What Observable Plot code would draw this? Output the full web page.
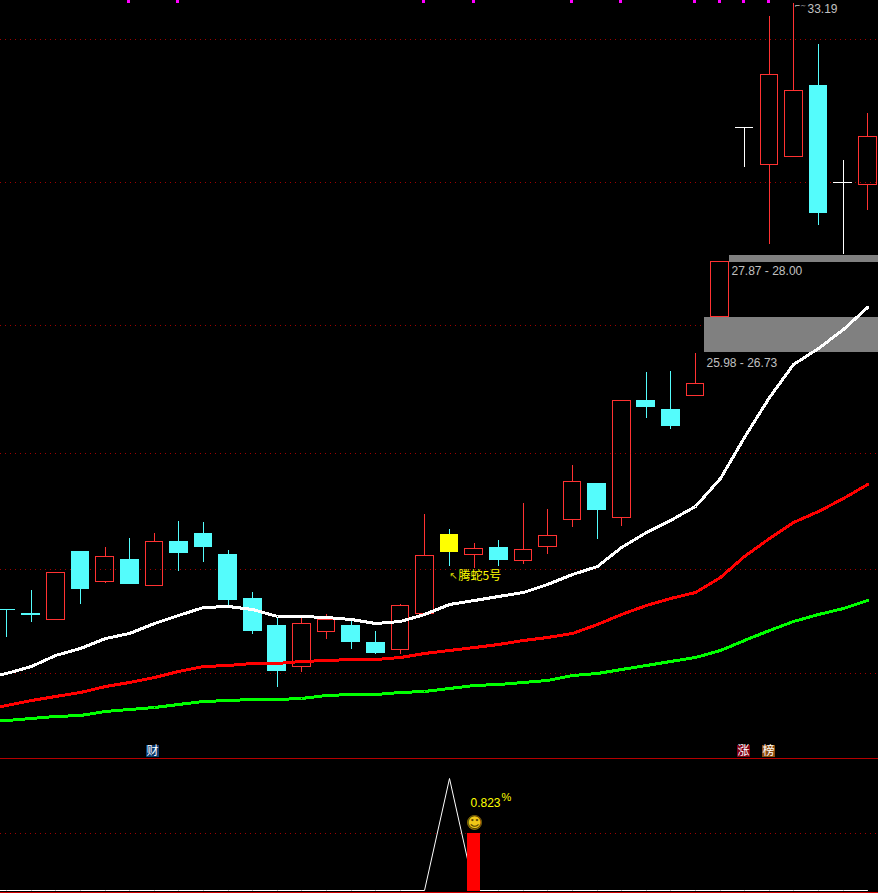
<!DOCTYPE html>
<html>
<head>
<meta charset="utf-8">
<script src="https://cdn.jsdelivr.net/npm/d3@7"></script>
<script src="https://cdn.jsdelivr.net/npm/@observablehq/plot@0.6"></script>
<style>
html,body{margin:0;padding:0;background:#000;overflow:hidden}
svg{display:block}
</style>
</head>
<body>
<div id="chart"></div>
<script>
const opens  = [20.72,20.64,20.52,21.92,21.30,21.75,21.22,22.13,22.29,21.86,20.95,20.39,19.55,20.27,20.39,20.04,19.90,20.64,22.27,21.86,22.00,21.73,22.02,22.58,23.32,22.62,25.03,24.84,25.13,26.76,30.65,29.89,30.06,31.52,29.52,29.48];
const closes = [20.72,20.60,21.49,21.14,21.82,21.24,22.13,21.88,22.00,20.91,20.27,19.45,20.44,20.52,20.04,19.82,20.81,21.84,21.90,21.98,21.73,21.96,22.25,23.36,22.76,25.03,24.89,24.49,25.38,27.89,30.65,31.75,31.42,28.88,29.52,30.47];
const highs  = [20.72,21.12,21.49,21.92,22.00,22.19,22.29,22.54,22.52,21.94,21.07,20.56,20.56,20.62,20.48,20.27,20.83,22.68,22.37,22.08,22.15,22.91,22.78,23.69,23.32,25.03,25.61,25.63,26.00,27.89,30.65,32.94,33.21,32.36,29.97,30.94];
const lows   = [20.15,20.46,20.52,20.83,21.26,21.24,21.22,21.51,21.69,20.79,20.21,19.12,19.43,20.11,19.90,19.80,19.80,20.64,21.61,21.57,21.61,21.65,21.86,22.41,22.17,22.43,24.66,24.43,25.13,26.76,29.83,28.24,30.06,28.64,28.04,28.94];

// moving averages; first reading sits one session left of the visible window
const lineDays = d3.range(-1, 36);
const maWhite = [19.30,19.41,19.56,19.78,19.92,20.13,20.24,20.44,20.60,20.76,20.78,20.72,20.57,20.57,20.55,20.52,20.43,20.47,20.62,20.83,20.92,20.99,21.08,21.23,21.45,21.60,22.01,22.32,22.56,22.85,23.42,24.27,25.09,25.77,26.10,26.49,26.95];
const maRed   = [18.65,18.75,18.85,18.94,19.02,19.14,19.23,19.33,19.44,19.54,19.58,19.61,19.61,19.65,19.67,19.69,19.69,19.73,19.82,19.88,19.95,20.01,20.08,20.14,20.24,20.42,20.62,20.81,20.96,21.08,21.38,21.82,22.19,22.52,22.74,23.01,23.30];
const maGreen = [18.40,18.44,18.48,18.51,18.55,18.62,18.66,18.71,18.77,18.83,18.86,18.88,18.88,18.90,18.95,18.97,18.97,19.01,19.04,19.10,19.15,19.18,19.22,19.26,19.37,19.41,19.49,19.57,19.65,19.74,19.88,20.09,20.29,20.48,20.62,20.75,20.91];

const gridPrices = [32.47,29.52,26.58,23.94,21.55,19.41];
const signalDays = [5,7,17,19,23,25,28,29,30,31];
const highlightDay = 18;
const flatDownDays = [0];

const bandStart = [29.38,28.36];
const bandLow   = [27.88,26.02];
const bandHigh  = [28.01,26.74];
const bandText  = ["27.87 - 28.00","25.98 - 26.73"];
const bandTextDay = [29.46,28.44];
const bandTextPrice = [27.69,25.80];

const badgeDays = [5.94,29.97,30.98];
const badgeText = ["财","涨","榜"];
const badgeFill = ["#0a3a6e","#7d0014","#8a4a0c"];

const peakLine = lineDays.map(d => d === 18 ? 1.62 : 0);
const barDay = 19, barValue = 0.823;

const xDomain = [-0.252, 35.44];
const priceTop = 33.27, priceBottom = 17.655;
const RED = "#ff3232", CYAN = "#54fcfc";
const LATIN = "Liberation Sans";
const CJK = "Noto Sans CJK SC";

const days = d3.range(opens.length);
const tone = i => i === highlightDay ? "#ffff00"
  : closes[i] > opens[i] ? RED
  : closes[i] < opens[i] ? CYAN
  : flatDownDays.includes(i) ? CYAN : "#ffffff";
const wickTone = i => i === highlightDay ? CYAN : tone(i);
const topOf = i => Math.max(opens[i], closes[i]);
const botOf = i => Math.min(opens[i], closes[i]);
const upDays = days.filter(i => closes[i] > opens[i]);
const solidDays = days.filter(i => closes[i] < opens[i]);
const flatDays = days.filter(i => closes[i] === opens[i]);
const crisp = {shapeRendering: "crispEdges"};

const main = Plot.plot({
  width: 878, height: 758, margin: 0,
  style: {background: "#000", color: "#fff"},
  x: {axis: null, domain: xDomain, round: true},
  y: {axis: null, domain: [priceBottom, priceTop], round: true},
  marks: [
    Plot.ruleY(gridPrices, {stroke: "#a00000", strokeDasharray: "1,4", ...crisp}),
    Plot.ruleX(signalDays, {x: d => d, y1: priceTop, y2: 33.21, stroke: "#ff00ff", strokeWidth: 3, dx: -1, ...crisp}),
    Plot.ruleX(days, {x: d => d, y1: i => highs[i], y2: topOf, stroke: wickTone, ...crisp}),
    Plot.ruleX(days, {x: d => d, y1: botOf, y2: i => lows[i], stroke: wickTone, ...crisp}),
    Plot.rect(upDays, {x1: i => i - 0.37, x2: i => i + 0.34, y1: i => opens[i], y2: i => closes[i], fill: "none", stroke: RED, ...crisp}),
    Plot.rect(solidDays, {x1: i => i - 0.385, x2: i => i + 0.385, y1: i => opens[i], y2: i => closes[i], fill: tone, ...crisp}),
    Plot.ruleY(flatDays, {y: i => opens[i], x1: i => i - 0.37, x2: i => i + 0.37, stroke: tone, clip: true, ...crisp}),
    Plot.rect(d3.range(2), {x1: i => bandStart[i], x2: xDomain[1], y1: i => bandLow[i], y2: i => bandHigh[i], fill: "#808080", ...crisp}),
    Plot.line(lineDays, {x: d => d, y: (d, i) => maGreen[i], stroke: "#00ff00", strokeWidth: 3, clip: true, ...crisp}),
    Plot.line(lineDays, {x: d => d, y: (d, i) => maRed[i], stroke: "#ff0000", strokeWidth: 3, clip: true, ...crisp}),
    Plot.line(lineDays, {x: d => d, y: (d, i) => maWhite[i], stroke: "#ffffff", strokeWidth: 3, clip: true, ...crisp}),
    Plot.text(d3.range(2), {x: i => bandTextDay[i], y: i => bandTextPrice[i], text: i => bandText[i], fill: "#c0c0c0", fontSize: 12, fontFamily: LATIN, textAnchor: "start"}),
    Plot.text(["33.19"], {x: 32.57, y: 33.09, text: d => d, fill: "#c0c0c0", fontSize: 12, fontFamily: LATIN, textAnchor: "start"}),
    Plot.text(["⌐~"], {x: 32.02, y: 33.16, text: d => d, fill: "#c0c0c0", fontSize: 7, fontFamily: "DejaVu Sans", textAnchor: "start"}),
    Plot.text(["↖"], {x: 18.0, y: 21.42, text: d => d, fill: "#e0e000", fontSize: 10, fontFamily: "DejaVu Sans", textAnchor: "start"}),
    Plot.text(["腾蛇5号"], {x: 18.36, y: 21.40, text: d => d, fill: "#ffff00", fontSize: 12, fontFamily: CJK, textAnchor: "start"}),
    Plot.rect(d3.range(3), {x1: i => badgeDays[i] - 0.27, x2: i => badgeDays[i] + 0.27, y1: 17.68, y2: 17.93, fill: i => badgeFill[i], ...crisp}),
    Plot.text(d3.range(3), {x: i => badgeDays[i], y: 17.805, text: i => badgeText[i], fill: "#ffffff", fontSize: 12, fontFamily: CJK})
  ]
});

const lower = Plot.plot({
  width: 878, height: 135, margin: 0,
  style: {background: "#000", color: "#fff"},
  x: {axis: null, domain: xDomain, round: true},
  y: {axis: null, domain: [-0.043, 1.905], round: true},
  marks: [
    Plot.ruleY([barValue], {stroke: "#a00000", strokeDasharray: "1,4", ...crisp}),
    Plot.line(lineDays, {x: d => d, y: (d, i) => peakLine[i], stroke: "#ffffff", strokeWidth: 1, clip: true}),
    Plot.rect([barValue], {x1: barDay - 0.27, x2: barDay + 0.27, y1: -0.015, y2: d => d, fill: "#ff0000", ...crisp}),
    Plot.ruleY([1.9], {stroke: "#b40000", ...crisp}),
    Plot.ruleY([-0.03], {stroke: "#d00000", ...crisp}),
    Plot.dot([0.98], {x: barDay, y: d => d, r: 7, fill: "#f0c818", stroke: "#a88a10", strokeWidth: 0.6}),
    Plot.text(["☺"], {x: barDay, y: 0.98, text: d => d, fill: "#5a4500", fontSize: 16, fontFamily: "DejaVu Sans"}),
    Plot.text(["0.823"], {x: 18.85, y: 1.26, text: d => d, fill: "#ffff00", fontSize: 12, fontFamily: LATIN, textAnchor: "start"}),
    Plot.text(["%"], {x: 20.11, y: 1.34, text: d => d, fill: "#ffff00", fontSize: 11, fontFamily: LATIN, textAnchor: "start"})
  ]
});

document.getElementById("chart").append(main, lower);
</script>
</body>
</html>
